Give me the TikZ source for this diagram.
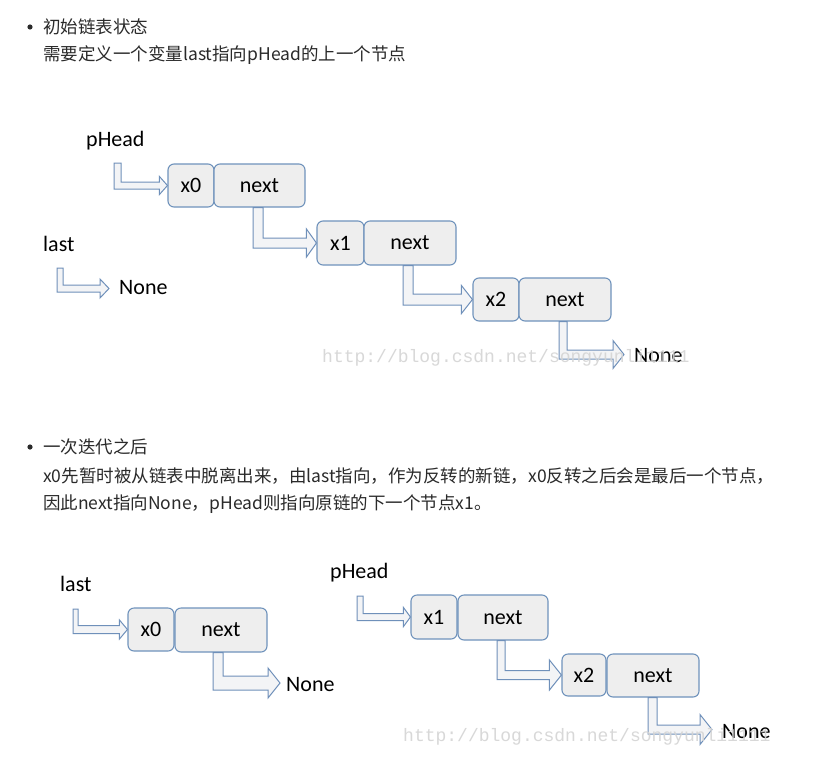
\documentclass[tikz,border=0pt]{standalone}
\usepackage{fontspec}
\setmainfont{Carlito}
\newfontfamily\cjk{Noto Sans CJK SC}
\newfontfamily\wmfont{Liberation Mono}
\usetikzlibrary{calc}
\definecolor{boxfill}{HTML}{EEEEEE}
\definecolor{boxdraw}{HTML}{7093BC}
\definecolor{arrfill}{HTML}{F3F4F6}
\definecolor{arrdraw}{HTML}{6F90BA}
\definecolor{txtc}{HTML}{2A2A2A}
\definecolor{wmc}{HTML}{D4D4D4}
\tikzset{
  cell/.style={draw=boxdraw, fill=boxfill, rounded corners=6pt, line width=1.1pt,
    inner sep=0pt, font=\fontsize{22}{26}\selectfont, text=black},
  lab/.style={inner sep=0pt, anchor=west, font=\fontsize{22}{26}\selectfont, text=black},
  cjkline/.style={inner sep=0pt, anchor=west, font=\cjk\fontsize{17.5}{21}\selectfont, text=txtc},
  arrowsty/.style={draw=arrdraw, fill=arrfill, line width=1pt, line join=miter},
  wmark/.style={inner sep=0pt, anchor=west, font=\wmfont\fontsize{18}{20}\selectfont, text=wmc, opacity=0.9}
}
% #1 start (top-left of shaft), #2 tip, #3 shaft width, #4 bar thickness, #5 head length, #6 head half-height
\newcommand\bentarr[6]{%
  \draw[arrowsty] let \p1=(#1), \p2=(#2) in
   (\x1,\y1) -- (\x1+#3pt,\y1) -- (\x1+#3pt,\y2+#4pt/2) -- (\x2-#5pt,\y2+#4pt/2)
   -- (\x2-#5pt,\y2+#6pt) -- (\x2,\y2) -- (\x2-#5pt,\y2-#6pt) -- (\x2-#5pt,\y2-#4pt/2)
   -- (\x1,\y2-#4pt/2) -- cycle;}
% name, left, top, right, bottom, text
\newcommand\cellnode[6]{%
  \node[cell, minimum width={#4-#2}, minimum height={#5-#3}] (#1) at ({(#2+#4)/2},{(#3+#5)/2}) {#6};}
\begin{document}
\begin{tikzpicture}[x=1pt,y=-1pt]
\fill[white] (0,0) rectangle (813,766);
\useasboundingbox (0,0) rectangle (813,766);

% ---------- section 1 text ----------
\fill[txtc] (30,27) circle (2.6);
\node[cjkline] (t1) at (43,27) {初始链表状态};
\node[cjkline] (t2) at (43,55) {需要定义一个变量last指向pHead的上一个节点};

% ---------- diagram 1 ----------
\node[lab] (phead1) at (86,141) {pHead};
\node[lab] (last1) at (43,244) {last};
\cellnode{x0a}{168}{164}{214}{207}{x0}
\cellnode{nexta}{214}{164}{305}{207}{next}
\cellnode{x1a}{317}{221}{364}{265}{x1}
\cellnode{nxa}{364}{221}{456}{265}{next}
\cellnode{x2a}{473}{278}{519}{321}{x2}
\cellnode{nxb}{519}{278}{611}{321}{next}
\node[lab] (none1) at (119,288) {None};
\node[lab] (none2) at (634,356) {None};

\coordinate (p1s) at (114,163);
\coordinate (l1s) at (57,268);
\coordinate (l1t) at (109,288.5);
\coordinate (n2t) at (624,354.5);
\bentarr{p1s}{x0a.west}{7}{7}{8}{9}
\bentarr{l1s}{l1t}{6}{7}{9}{9.5}
\bentarr{$(nexta.south)+(-6.5,0)$}{x1a.west}{10}{10}{10}{14}
\bentarr{$(nxa.south)+(-7,0)$}{x2a.west}{10}{11}{11}{14}
\bentarr{$(nxb.south)+(-6,0)$}{n2t}{8}{9}{11}{14}

\node[wmark] (wm1) at (322,358) {http://blog.csdn.net/songyunli1111};

% ---------- section 2 text ----------
\fill[txtc] (30,447) circle (2.6);
\node[cjkline] (t3) at (43,447) {一次迭代之后};
\node[cjkline] (t4) at (43,476) {x0先暂时被从链表中脱离出来，由last指向，作为反转的新链，x0反转之后会是最后一个节点，};
\node[cjkline] (t5) at (43,504) {因此next指向None，pHead则指向原链的下一个节点x1。};

% ---------- diagram 2 ----------
\node[lab] (last2) at (60,584) {last};
\node[lab] (phead2) at (330,573) {pHead};
\cellnode{x0b}{128}{608}{174}{651}{x0}
\cellnode{nextb}{175}{608}{267}{652}{next}
\cellnode{x1b}{411}{595}{457}{639}{x1}
\cellnode{nx1b}{458}{595}{548}{640}{next}
\cellnode{x2b}{562}{654}{606}{696}{x2}
\cellnode{nx2b}{607}{654}{699}{697}{next}
\node[lab] (none3) at (286,685) {None};
\node[lab] (none4) at (722,732) {None};

\coordinate (l2s) at (73,609);
\coordinate (p2s) at (357,596);
\coordinate (n3t) at (280,683);
\coordinate (n4t) at (712,729.5);
\bentarr{l2s}{x0b.west}{5}{8}{8}{9.5}
\bentarr{$(nextb.south)+(-8,0)$}{n3t}{10}{14}{12}{15}
\bentarr{p2s}{x1b.west}{6}{7}{7}{9.5}
\bentarr{$(nx1b.south)+(-6,0)$}{x2b.west}{8}{9}{12}{15}
\bentarr{$(nx2b.south)+(-5,0)$}{n4t}{9}{9}{12}{15}

\node[wmark] (wm2) at (403,737) {http://blog.csdn.net/songyunli1111};
\end{tikzpicture}
\end{document}
